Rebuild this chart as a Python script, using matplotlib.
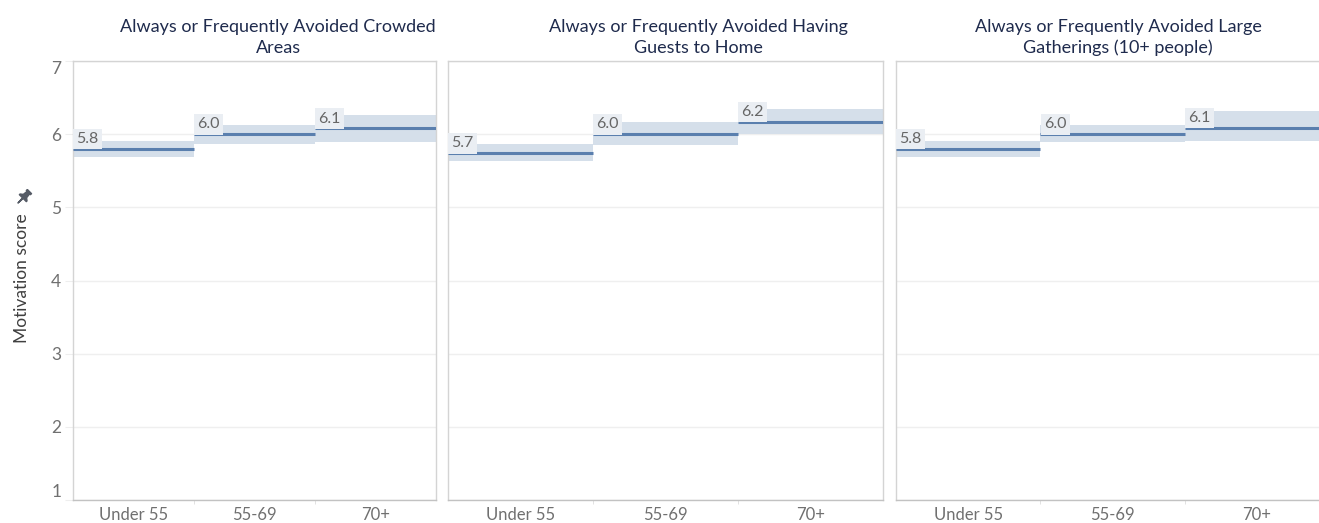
import matplotlib
matplotlib.use('Agg')
import matplotlib.pyplot as plt
from matplotlib.path import Path
from matplotlib.lines import Line2D
import numpy as np

# ---------------- data ----------------
categories = ['Under 55', '55-69', '70+']
titles = [
    'Always or Frequently Avoided Crowded\nAreas',
    'Always or Frequently Avoided Having\nGuests to Home',
    'Always or Frequently Avoided Large\nGatherings (10+ people)',
]
crowded_mean = [5.80, 6.00, 6.08]
crowded_lo = [5.69, 5.87, 5.89]
crowded_hi = [5.91, 6.12, 6.26]

guests_mean = [5.74, 6.00, 6.17]
guests_lo = [5.63, 5.85, 6.00]
guests_hi = [5.87, 6.16, 6.34]

gatherings_mean = [5.80, 6.00, 6.09]
gatherings_lo = [5.69, 5.89, 5.90]
gatherings_hi = [5.91, 6.13, 6.31]

y_ticks = [1, 2, 3, 4, 5, 6, 7]
y_label = 'Motivation score'

series = [
    (crowded_mean, crowded_lo, crowded_hi),
    (guests_mean, guests_lo, guests_hi),
    (gatherings_mean, gatherings_lo, gatherings_hi),
]

# ---------------- style ----------------
W, H = 1319, 523
FONT = ['Lato', 'DejaVu Sans']
plt.rcParams['font.family'] = FONT
LINE = '#5a7fae'
BAND = '#d5dfea'
LABEL_BG = '#eaeef3'
TITLE_C = '#1f2b4d'
TICK_C = '#707070'
SPINE_C = '#d4d4d4'

def fx(px):
    return px / W

def fy(py):
    return 1 - py / H

fig = plt.figure(figsize=(W / 100, H / 100), dpi=100)
fig.patch.set_facecolor('white')

panels_px = [(73, 436), (448, 883), (896, 1329)]
top_px, bot_px = 61, 500
title_centers = [278, 698, 1118]

x = np.arange(len(categories))
for k, ((l, r), (mean, lo, hi)) in enumerate(zip(panels_px, series)):
    ax = fig.add_axes([fx(l), fy(bot_px), (r - l) / W, (bot_px - top_px) / H])
    ax.set_xlim(-0.5, len(categories) - 0.5)
    ax.set_ylim(1, 7)
    ax.set_yticks(y_ticks)
    ax.grid(axis='y', color='#efefef', lw=1, zorder=0)
    ax.set_axisbelow(True)

    lo = np.array(lo)
    hi = np.array(hi)
    ax.bar(x, hi - lo, bottom=lo, width=1.0, color=BAND, zorder=2, linewidth=0)
    ax.hlines(mean, x - 0.5, x + 0.5, color=LINE, lw=2.2, zorder=3)
    for i, m in enumerate(mean):
        ax.annotate(f'{m:.1f}', xy=(i - 0.5, m), xytext=(2.6, 2.0),
                    textcoords='offset points', ha='left', va='bottom',
                    fontsize=11.5, color='#666666', zorder=4,
                    bbox=dict(boxstyle='square,pad=0.2', fc=LABEL_BG, ec='none'))

    for s in ax.spines.values():
        s.set_color(SPINE_C)
        s.set_linewidth(1)
    ax.spines['bottom'].set_color('#c2c2c2')

    ax.set_xticks(x)
    ax.set_xticklabels(categories)
    ax.set_xticks([0.5, 1.5], minor=True)
    ax.tick_params(axis='x', which='major', length=0, pad=5.0,
                   labelsize=12, labelcolor=TICK_C)
    ax.tick_params(axis='x', which='minor', length=3, color='#dddddd')

    if k == 0:
        ax.tick_params(axis='y', length=6, color='#eeeeee', pad=2.5,
                       labelsize=12.5, labelcolor=TICK_C)
        labs = ax.get_yticklabels()
        labs[-1].set_va('top')
        labs[0].set_va('bottom')
    else:
        ax.tick_params(axis='y', length=0, labelleft=False)

    # title
    lines = titles[k].split('\n')
    baselines = [32, 53]
    for line, b in zip(lines, baselines):
        fig.text(fx(title_centers[k]), fy(b), line, ha='center', va='baseline',
                 fontsize=13, color=TITLE_C)

# y axis label
fig.text(fx(22), fy(278), y_label, rotation=90, ha='center', va='center',
         fontsize=12.5, color='#3f3f3f')

# pin icon
pin = np.array([(-0.3, 1.0), (0.3, 1.0), (0.3, 0.85), (0.18, 0.85), (0.24, 0.35),
                (0.5, 0.15), (0.5, 0.05), (0.05, 0.05), (0.0, -0.65), (-0.05, 0.05),
                (-0.5, 0.05), (-0.5, 0.15), (-0.24, 0.35), (-0.18, 0.85), (-0.3, 0.85),
                (-0.3, 1.0)])
th = np.deg2rad(-45)
rot = np.array([[np.cos(th), -np.sin(th)], [np.sin(th), np.cos(th)]])
pin_r = pin @ rot.T
fig.add_artist(Line2D([fx(22)], [fy(198)], marker=Path(pin_r), markersize=13,
                      color='#555b66', linestyle='none', transform=fig.transFigure))

fig.savefig('out.png', dpi=100, facecolor='white')
